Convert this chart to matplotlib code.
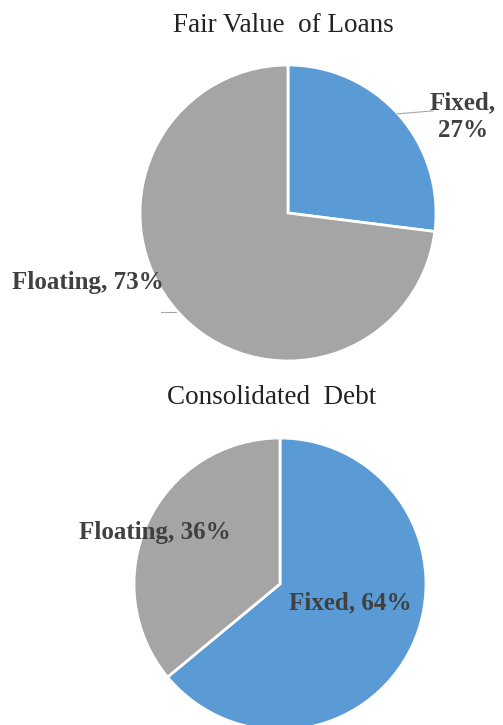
import matplotlib
matplotlib.use("Agg")
import matplotlib.pyplot as plt

# data
labels = ["Fixed", "Floating"]
loans_share = [27, 73]
debt_share = [64, 36]
titles = ["Fair Value  of Loans", "Consolidated  Debt"]

BLUE = "#5B9BD5"
GRAY = "#A5A5A5"
TXT = "#404040"

W, H = 503, 725
fig = plt.figure(figsize=(W / 100, H / 100), dpi=100)
plt.rcParams['font.family'] = ['Liberation Serif', 'DejaVu Serif']


def pie_axes(cx, cy, r):
    # cx, cy, r in pixels (y from top)
    ax = fig.add_axes([(cx - r) / W, (H - cy - r) / H, 2 * r / W, 2 * r / H])
    ax.set_xlim(-1, 1)
    ax.set_ylim(-1, 1)
    ax.axis("off")
    return ax


wedge_style = dict(edgecolor="white", linewidth=2)
lab_style = dict(fontsize=18, fontweight="bold", color=TXT)

# top pie
ax1 = pie_axes(288, 213, 148)
ax1.pie(loans_share, colors=[BLUE, GRAY], startangle=90, counterclock=False,
        wedgeprops=wedge_style, radius=1)
ax1.set_xlim(-1, 1)
ax1.set_ylim(-1, 1)
ax1.text((463 - 288) / 148, (213 - 117) / 148, f"{labels[0]},\n{loans_share[0]}%",
         ha="center", va="center", linespacing=1.25, clip_on=False, **lab_style)
ax1.text((88 - 288) / 148, (213 - 283) / 148, f"{labels[1]}, {loans_share[1]}%",
         ha="center", va="center", clip_on=False, **lab_style)
ax1.plot([0.74, 0.98], [0.67, 0.69], color="#A6A6A6", lw=0.8, clip_on=False)
ax1.plot([-0.86, -0.76], [-0.67, -0.67], color="#A6A6A6", lw=0.8, clip_on=False)

# bottom pie
ax2 = pie_axes(280, 584, 146)
ax2.pie(debt_share, colors=[BLUE, GRAY], startangle=90, counterclock=False,
        wedgeprops=wedge_style, radius=1)
ax2.set_xlim(-1, 1)
ax2.set_ylim(-1, 1)
ax2.text((350 - 280) / 146, (584 - 603) / 146, f"{labels[0]}, {debt_share[0]}%",
         ha="center", va="center", **lab_style)
ax2.text((155 - 280) / 146, (584 - 532) / 146, f"{labels[1]}, {debt_share[1]}%",
         ha="center", va="center", clip_on=False, **lab_style)

fig.text(283 / W, 1 - 26 / H, titles[0], ha="center", va="center", fontsize=19.5, color="#222222")
fig.text(272 / W, 1 - 398 / H, titles[1], ha="center", va="center", fontsize=19.5, color="#222222")

fig.savefig("out.png", dpi=100)
